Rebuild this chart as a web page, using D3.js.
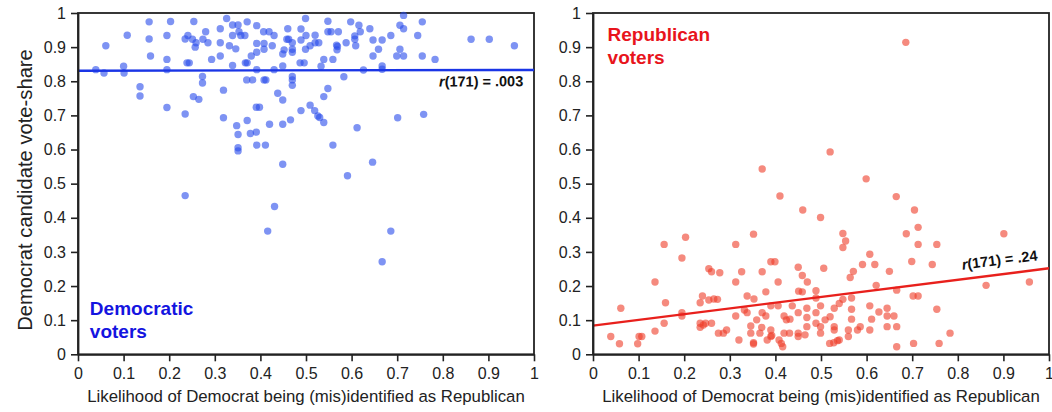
<!DOCTYPE html>
<html><head><meta charset="utf-8">
<script src="https://cdn.jsdelivr.net/npm/d3@7"></script>
<style>body{margin:0;background:#fff}svg{display:block}text{font-family:"Liberation Sans",Arial,sans-serif}</style>
</head><body><svg id="c" width="1052" height="412"></svg>
<script>
const xTicks=[0,0.1,0.2,0.3,0.4,0.5,0.6,0.7,0.8,0.9,1];
const yTicks=[0,0.1,0.2,0.3,0.4,0.5,0.6,0.7,0.8,0.9,1];
const demX=[0.039,0.061,0.057,0.100,0.101,0.108,0.136,0.136,0.156,0.156,0.159,0.195,0.195,0.195,0.195,0.203,0.235,0.235,0.241,0.239,0.244,0.254,0.251,0.257,0.259,0.273,0.273,0.253,0.265,0.280,0.274,0.285,0.293,0.312,0.312,0.312,0.319,0.319,0.326,0.332,0.339,0.339,0.346,0.339,0.351,0.353,0.357,0.366,0.348,0.351,0.351,0.351,0.371,0.367,0.371,0.370,0.383,0.371,0.378,0.391,0.391,0.398,0.392,0.411,0.392,0.392,0.392,0.380,0.392,0.407,0.408,0.408,0.419,0.430,0.426,0.408,0.412,0.420,0.438,0.430,0.235,0.431,0.416,0.449,0.449,0.449,0.466,0.458,0.462,0.460,0.470,0.470,0.470,0.452,0.449,0.449,0.470,0.470,0.470,0.489,0.489,0.487,0.496,0.499,0.500,0.499,0.509,0.520,0.520,0.528,0.539,0.533,0.489,0.509,0.519,0.526,0.530,0.539,0.539,0.548,0.548,0.548,0.555,0.567,0.569,0.568,0.559,0.571,0.588,0.583,0.559,0.598,0.607,0.607,0.609,0.616,0.619,0.612,0.591,0.626,0.640,0.647,0.647,0.659,0.667,0.667,0.667,0.646,0.686,0.699,0.706,0.714,0.714,0.706,0.714,0.701,0.745,0.755,0.755,0.758,0.783,0.862,0.902,0.957,0.686,0.667];
const demY=[0.834,0.904,0.824,0.844,0.824,0.935,0.784,0.757,0.974,0.924,0.874,0.934,0.864,0.834,0.723,0.975,0.704,0.924,0.934,0.854,0.854,0.975,0.923,0.900,0.913,0.814,0.795,0.755,0.747,0.945,0.923,0.913,0.864,0.954,0.913,0.874,0.774,0.693,0.984,0.904,0.965,0.934,0.895,0.846,0.965,0.945,0.934,0.934,0.670,0.644,0.605,0.596,0.974,0.854,0.854,0.804,0.804,0.685,0.647,0.651,0.724,0.724,0.613,0.613,0.963,0.911,0.885,0.874,0.834,0.945,0.911,0.894,0.945,0.934,0.904,0.804,0.804,0.674,0.765,0.834,0.465,0.433,0.361,0.745,0.674,0.557,0.687,0.923,0.923,0.954,0.913,0.894,0.885,0.892,0.880,0.845,0.814,0.804,0.788,0.953,0.921,0.854,0.854,0.984,0.934,0.894,0.904,0.935,0.913,0.913,0.864,0.844,0.714,0.730,0.714,0.698,0.694,0.679,0.755,0.779,0.976,0.945,0.945,0.906,0.902,0.892,0.864,0.945,0.913,0.813,0.613,0.974,0.933,0.923,0.904,0.964,0.945,0.664,0.523,0.833,0.954,0.921,0.874,0.894,0.921,0.845,0.835,0.563,0.934,0.874,0.964,0.954,0.993,0.894,0.874,0.693,0.934,0.974,0.874,0.703,0.864,0.923,0.923,0.904,0.361,0.271];
const repX=[0.371,0.410,0.686,0.520,0.599,0.665,0.460,0.352,0.039,0.058,0.061,0.098,0.101,0.107,0.136,0.136,0.156,0.156,0.159,0.195,0.195,0.195,0.203,0.235,0.235,0.235,0.240,0.242,0.247,0.254,0.260,0.254,0.260,0.265,0.273,0.275,0.278,0.286,0.293,0.313,0.313,0.313,0.320,0.326,0.332,0.338,0.338,0.346,0.346,0.352,0.352,0.353,0.359,0.366,0.370,0.371,0.371,0.379,0.379,0.382,0.390,0.390,0.390,0.392,0.390,0.399,0.406,0.406,0.408,0.413,0.416,0.419,0.424,0.419,0.431,0.432,0.437,0.450,0.451,0.450,0.450,0.450,0.459,0.459,0.470,0.469,0.469,0.469,0.465,0.499,0.705,0.713,0.687,0.713,0.754,0.901,0.548,0.554,0.548,0.607,0.591,0.618,0.571,0.564,0.650,0.506,0.699,0.744,0.621,0.666,0.702,0.713,0.862,0.957,0.489,0.489,0.489,0.499,0.489,0.509,0.499,0.499,0.520,0.529,0.540,0.548,0.529,0.529,0.519,0.528,0.536,0.540,0.560,0.560,0.567,0.567,0.567,0.586,0.580,0.607,0.607,0.611,0.627,0.645,0.645,0.660,0.645,0.666,0.666,0.703,0.754,0.759,0.783];
const repY=[0.543,0.464,0.914,0.593,0.514,0.462,0.423,0.352,0.052,0.031,0.135,0.031,0.052,0.052,0.212,0.068,0.322,0.091,0.151,0.282,0.122,0.112,0.343,0.151,0.091,0.079,0.171,0.086,0.091,0.251,0.242,0.159,0.091,0.162,0.161,0.062,0.239,0.062,0.071,0.322,0.212,0.112,0.042,0.242,0.130,0.171,0.122,0.083,0.062,0.034,0.030,0.162,0.101,0.062,0.079,0.242,0.122,0.183,0.112,0.042,0.271,0.142,0.052,0.055,0.071,0.271,0.212,0.142,0.042,0.032,0.022,0.112,0.101,0.062,0.062,0.103,0.142,0.255,0.185,0.122,0.062,0.052,0.231,0.183,0.212,0.135,0.108,0.081,0.057,0.401,0.423,0.372,0.353,0.322,0.322,0.353,0.354,0.332,0.313,0.293,0.263,0.263,0.243,0.225,0.243,0.252,0.272,0.263,0.202,0.188,0.171,0.171,0.202,0.212,0.186,0.165,0.122,0.142,0.091,0.101,0.081,0.062,0.110,0.135,0.149,0.161,0.081,0.071,0.032,0.034,0.040,0.042,0.052,0.071,0.103,0.132,0.165,0.081,0.071,0.142,0.071,0.103,0.124,0.135,0.112,0.112,0.081,0.081,0.022,0.032,0.132,0.032,0.062];
const demFit=[0.831,0.833];
const repFit=[0.084,0.252];
const demR="171",demRval=".003",repRval=".24";

const svg=d3.select("#c");
const yS=d3.scaleLinear().domain([0,1]).range([354.3,13]);
const fmt=d=>d===0?"0":d===1?"1":d.toFixed(1);

function panel(x0,x1,xs,ys,fit,dotFill,lineCol,lab,labCol,labPos,rText,rPos){
  const xS=d3.scaleLinear().domain([0,1]).range([x0,x1]);
  const g=svg.append("g");
  g.append("rect").attr("x",x0).attr("y",yS(1)).attr("width",x1-x0).attr("height",yS(0)-yS(1))
    .attr("fill","none").attr("stroke","#222").attr("stroke-width",1.8);
  g.selectAll("circle").data(xs.map((v,i)=>[v,ys[i]])).join("circle")
    .attr("cx",d=>xS(d[0])).attr("cy",d=>yS(d[1])).attr("r",3.7)
    .attr("fill",dotFill).attr("fill-opacity",0.6);
  g.append("line").attr("x1",xS(0)).attr("x2",xS(1)).attr("y1",yS(fit[0])).attr("y2",yS(fit[1]))
    .attr("stroke",lineCol).attr("stroke-width",2.4);
  const ax=g.append("g").attr("transform",`translate(0,${yS(0)})`)
    .call(d3.axisBottom(xS).tickValues(xTicks).tickFormat(fmt).tickSize(7).tickPadding(6).tickSizeOuter(0));
  const ay=g.append("g").attr("transform",`translate(${x0},0)`)
    .call(d3.axisLeft(yS).tickValues(yTicks).tickFormat(fmt).tickSize(7).tickPadding(5).tickSizeOuter(0));
  [ax,ay].forEach(a=>{a.select(".domain").attr("stroke","#222").attr("stroke-width",1.8);
    a.selectAll(".tick line").attr("stroke","#222").attr("stroke-width",1.6);
    a.selectAll(".tick text").attr("font-size",16).attr("fill","#222").attr("font-family","Liberation Sans, Arial, sans-serif");});
  g.append("text").attr("x",(x0+x1)/2).attr("y",402).attr("text-anchor","middle")
    .attr("font-size",16.8).attr("fill","#222").text("Likelihood of Democrat being (mis)identified as Republican");
  const t=g.append("text").attr("font-size",19).attr("font-weight","bold").attr("fill",labCol);
  t.append("tspan").attr("x",xS(labPos[0])).attr("y",yS(labPos[1])).text(lab[0]);
  t.append("tspan").attr("x",xS(labPos[0])).attr("dy",23).text(lab[1]);
  const ang=Math.atan2(yS(fit[1])-yS(fit[0]),xS(1)-xS(0))*180/Math.PI;
  const rx=xS(rPos[0]), ry=yS(rPos[1]);
  const rt=g.append("text").attr("font-size",14.5).attr("font-weight","bold").attr("fill","#111")
    .attr("text-anchor","middle").attr("transform",`translate(${rx},${ry}) rotate(${ang})`);
  rt.append("tspan").attr("font-style","italic").text("r");
  rt.append("tspan").text(`(${demR}) = ${rText}`);
}
panel(78,534,demX,demY,demFit,"rgb(40,75,235)","#1a35e6",["Democratic","voters"],"#1414e0",[0.026,0.115],demRval,[0.884,0.785]);
panel(593,1049,repX,repY,repFit,"rgb(238,60,40)","#e8201c",["Republican","voters"],"#e8141c",[0.032,0.917],repRval,[0.893,0.262]);
svg.append("text").attr("transform","translate(32,190) rotate(-90)").attr("text-anchor","middle")
  .attr("font-size",20.2).attr("fill","#222").text("Democrat candidate vote-share");
</script></body></html>
